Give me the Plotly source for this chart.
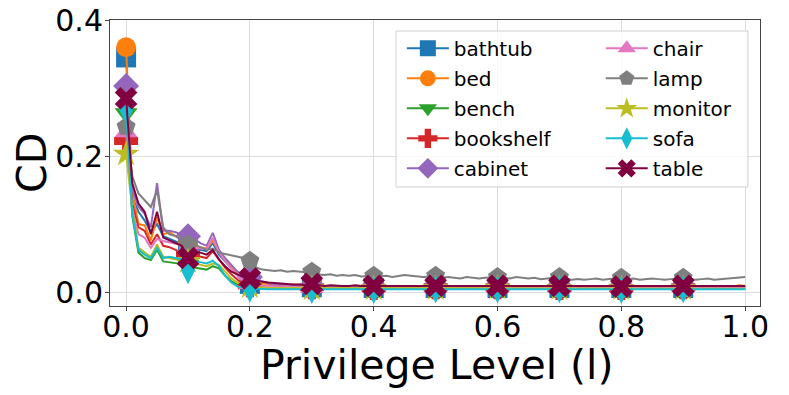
import plotly.graph_objects as go

# privilege level sampled every 0.01 from 0 to 1
privilege = [round(i / 100, 2) for i in range(101)]

bathtub = [0.345, 0.140, 0.118, 0.105, 0.088, 0.100, 0.082, 0.078, 0.074, 0.070,
           0.066, 0.063, 0.062, 0.060, 0.072, 0.055, 0.045, 0.035, 0.025, 0.018, 0.012,
           0.010, 0.009, 0.009, 0.008, 0.009, 0.008, 0.008, 0.007, 0.008, 0.007,
           0.007, 0.007, 0.006, 0.007, 0.007, 0.006, 0.007, 0.006, 0.007, 0.006,
           0.006, 0.007, 0.006, 0.006, 0.007, 0.006, 0.006, 0.007, 0.006, 0.006,
           0.007, 0.006, 0.006, 0.007, 0.006, 0.006, 0.007, 0.006, 0.006, 0.006,
           0.006, 0.007, 0.006, 0.006, 0.006, 0.007, 0.006, 0.006, 0.007, 0.006,
           0.006, 0.006, 0.007, 0.006, 0.006, 0.006, 0.007, 0.006, 0.006, 0.006,
           0.007, 0.006, 0.006, 0.006, 0.007, 0.006, 0.006, 0.006, 0.007, 0.006,
           0.006, 0.006, 0.007, 0.006, 0.006, 0.006, 0.007, 0.006, 0.006, 0.006]
bed = [0.360, 0.145, 0.100, 0.098, 0.076, 0.110, 0.085, 0.088, 0.082, 0.078,
       0.072, 0.068, 0.066, 0.064, 0.075, 0.060, 0.048, 0.036, 0.026, 0.018, 0.014,
       0.013, 0.012, 0.012, 0.011, 0.011, 0.010, 0.011, 0.010, 0.010, 0.009,
       0.009, 0.009, 0.010, 0.009, 0.009, 0.010, 0.009, 0.009, 0.008, 0.009,
       0.009, 0.008, 0.009, 0.009, 0.008, 0.009, 0.009, 0.008, 0.009, 0.008,
       0.009, 0.008, 0.009, 0.008, 0.008, 0.009, 0.008, 0.009, 0.008, 0.008,
       0.008, 0.009, 0.008, 0.008, 0.009, 0.008, 0.008, 0.009, 0.008, 0.008,
       0.009, 0.008, 0.008, 0.009, 0.008, 0.008, 0.008, 0.009, 0.008, 0.008,
       0.008, 0.009, 0.008, 0.008, 0.008, 0.009, 0.008, 0.008, 0.009, 0.008,
       0.008, 0.008, 0.009, 0.008, 0.008, 0.009, 0.008, 0.008, 0.010, 0.009]
bench = [0.263, 0.112, 0.058, 0.050, 0.047, 0.062, 0.045, 0.044, 0.043, 0.042,
         0.040, 0.036, 0.034, 0.033, 0.038, 0.035, 0.024, 0.016, 0.011, 0.008, 0.007,
         0.007, 0.006, 0.006, 0.006, 0.005, 0.006, 0.005, 0.005, 0.005, 0.005,
         0.005, 0.004, 0.005, 0.005, 0.004, 0.005, 0.005, 0.004, 0.005, 0.005,
         0.004, 0.005, 0.005, 0.004, 0.005, 0.004, 0.005, 0.005, 0.004, 0.005,
         0.005, 0.004, 0.005, 0.005, 0.004, 0.005, 0.004, 0.005, 0.005, 0.004,
         0.005, 0.005, 0.004, 0.005, 0.004, 0.005, 0.005, 0.004, 0.005, 0.005,
         0.004, 0.005, 0.005, 0.004, 0.005, 0.004, 0.005, 0.005, 0.004, 0.005,
         0.005, 0.004, 0.005, 0.005, 0.004, 0.005, 0.004, 0.005, 0.005, 0.004,
         0.005, 0.005, 0.004, 0.005, 0.004, 0.005, 0.005, 0.004, 0.005, 0.005]
bookshelf = [0.222, 0.130, 0.095, 0.090, 0.070, 0.085, 0.068, 0.066, 0.062, 0.058,
             0.055, 0.054, 0.052, 0.050, 0.060, 0.048, 0.036, 0.026, 0.018, 0.012, 0.010,
             0.009, 0.009, 0.008, 0.008, 0.008, 0.007, 0.008, 0.007, 0.007, 0.007,
             0.007, 0.006, 0.007, 0.007, 0.006, 0.007, 0.006, 0.007, 0.007, 0.006,
             0.007, 0.006, 0.007, 0.006, 0.007, 0.007, 0.006, 0.007, 0.006, 0.007,
             0.006, 0.007, 0.007, 0.006, 0.007, 0.006, 0.007, 0.006, 0.007, 0.007,
             0.006, 0.007, 0.006, 0.007, 0.007, 0.006, 0.007, 0.006, 0.007, 0.006,
             0.007, 0.007, 0.006, 0.007, 0.006, 0.007, 0.006, 0.007, 0.007, 0.006,
             0.007, 0.006, 0.007, 0.006, 0.007, 0.007, 0.006, 0.007, 0.006, 0.007,
             0.006, 0.007, 0.007, 0.006, 0.007, 0.006, 0.007, 0.006, 0.007, 0.007]
cabinet = [0.303, 0.150, 0.125, 0.115, 0.095, 0.160, 0.090, 0.090, 0.088, 0.085,
           0.082, 0.078, 0.072, 0.068, 0.087, 0.062, 0.050, 0.040, 0.030, 0.025, 0.022,
           0.018, 0.015, 0.013, 0.012, 0.011, 0.011, 0.010, 0.010, 0.009, 0.009,
           0.009, 0.008, 0.009, 0.008, 0.008, 0.009, 0.008, 0.008, 0.008, 0.009,
           0.008, 0.008, 0.009, 0.008, 0.008, 0.008, 0.009, 0.008, 0.008, 0.008,
           0.008, 0.009, 0.008, 0.008, 0.008, 0.009, 0.008, 0.008, 0.008, 0.008,
           0.009, 0.008, 0.008, 0.008, 0.009, 0.008, 0.008, 0.008, 0.008, 0.009,
           0.008, 0.008, 0.008, 0.009, 0.008, 0.008, 0.008, 0.008, 0.009, 0.008,
           0.008, 0.008, 0.009, 0.008, 0.008, 0.008, 0.008, 0.009, 0.008, 0.008,
           0.008, 0.009, 0.008, 0.008, 0.008, 0.008, 0.009, 0.008, 0.008, 0.008]
chair = [0.235, 0.120, 0.085, 0.080, 0.065, 0.078, 0.075, 0.073, 0.070, 0.068,
         0.066, 0.065, 0.064, 0.063, 0.080, 0.058, 0.046, 0.034, 0.024, 0.016, 0.012,
         0.010, 0.009, 0.009, 0.008, 0.008, 0.008, 0.007, 0.007, 0.007, 0.006,
         0.006, 0.007, 0.006, 0.006, 0.006, 0.007, 0.006, 0.006, 0.006, 0.006,
         0.007, 0.006, 0.006, 0.006, 0.006, 0.007, 0.006, 0.006, 0.006, 0.006,
         0.006, 0.007, 0.006, 0.006, 0.006, 0.006, 0.007, 0.006, 0.006, 0.006,
         0.006, 0.006, 0.007, 0.006, 0.006, 0.006, 0.006, 0.007, 0.006, 0.006,
         0.006, 0.006, 0.006, 0.007, 0.006, 0.006, 0.006, 0.006, 0.007, 0.006,
         0.006, 0.006, 0.006, 0.006, 0.007, 0.006, 0.006, 0.006, 0.006, 0.007,
         0.006, 0.006, 0.006, 0.006, 0.006, 0.007, 0.006, 0.006, 0.006, 0.006]
lamp = [0.243, 0.170, 0.145, 0.135, 0.125, 0.150, 0.095, 0.085, 0.082, 0.080,
        0.070, 0.070, 0.066, 0.062, 0.064, 0.058, 0.056, 0.054, 0.052, 0.050, 0.046,
        0.036, 0.033, 0.032, 0.031, 0.032, 0.030, 0.031, 0.030, 0.029, 0.030,
        0.026, 0.025, 0.026, 0.024, 0.025, 0.024, 0.025, 0.023, 0.024, 0.024,
        0.023, 0.024, 0.022, 0.023, 0.025, 0.024, 0.023, 0.022, 0.023, 0.024,
        0.021, 0.022, 0.021, 0.020, 0.022, 0.021, 0.020, 0.021, 0.022, 0.022,
        0.021, 0.020, 0.022, 0.021, 0.020, 0.021, 0.019, 0.020, 0.021, 0.022,
        0.019, 0.018, 0.019, 0.018, 0.019, 0.020, 0.018, 0.019, 0.020, 0.021,
        0.019, 0.020, 0.018, 0.019, 0.020, 0.019, 0.018, 0.019, 0.020, 0.021,
        0.019, 0.018, 0.019, 0.020, 0.018, 0.019, 0.020, 0.021, 0.022, 0.022]
monitor = [0.203, 0.122, 0.065, 0.058, 0.052, 0.070, 0.052, 0.050, 0.048, 0.047,
           0.045, 0.042, 0.040, 0.038, 0.042, 0.040, 0.030, 0.020, 0.014, 0.010, 0.008,
           0.007, 0.007, 0.006, 0.006, 0.006, 0.005, 0.006, 0.005, 0.005, 0.005,
           0.005, 0.005, 0.006, 0.005, 0.005, 0.005, 0.005, 0.006, 0.005, 0.005,
           0.005, 0.006, 0.005, 0.005, 0.005, 0.005, 0.006, 0.005, 0.005, 0.005,
           0.006, 0.005, 0.005, 0.005, 0.005, 0.006, 0.005, 0.005, 0.005, 0.006,
           0.005, 0.005, 0.005, 0.005, 0.006, 0.005, 0.005, 0.005, 0.006, 0.005,
           0.005, 0.005, 0.005, 0.006, 0.005, 0.005, 0.005, 0.006, 0.005, 0.005,
           0.005, 0.005, 0.006, 0.005, 0.005, 0.005, 0.006, 0.005, 0.005, 0.005,
           0.005, 0.006, 0.005, 0.005, 0.005, 0.006, 0.005, 0.005, 0.005, 0.005]
sofa = [0.268, 0.115, 0.062, 0.055, 0.050, 0.065, 0.050, 0.052, 0.050, 0.048,
        0.032, 0.045, 0.044, 0.042, 0.046, 0.038, 0.024, 0.014, 0.008, 0.006, 0.005,
        0.005, 0.004, 0.004, 0.004, 0.004, 0.004, 0.003, 0.004, 0.004, 0.003,
        0.004, 0.004, 0.003, 0.004, 0.004, 0.004, 0.003, 0.004, 0.004, 0.003,
        0.004, 0.004, 0.004, 0.003, 0.004, 0.004, 0.003, 0.004, 0.004, 0.004,
        0.003, 0.004, 0.004, 0.004, 0.003, 0.004, 0.004, 0.003, 0.004, 0.004,
        0.004, 0.003, 0.004, 0.004, 0.004, 0.003, 0.004, 0.004, 0.003, 0.004,
        0.004, 0.004, 0.003, 0.004, 0.004, 0.004, 0.003, 0.004, 0.004, 0.003,
        0.004, 0.004, 0.004, 0.003, 0.004, 0.004, 0.003, 0.004, 0.004, 0.004,
        0.003, 0.004, 0.004, 0.004, 0.003, 0.004, 0.004, 0.003, 0.004, 0.004]
table = [0.285, 0.160, 0.130, 0.118, 0.085, 0.118, 0.080, 0.076, 0.072, 0.068,
         0.050, 0.060, 0.058, 0.055, 0.062, 0.048, 0.038, 0.030, 0.026, 0.022, 0.020,
         0.017, 0.015, 0.014, 0.013, 0.012, 0.012, 0.011, 0.011, 0.010, 0.012,
         0.010, 0.009, 0.010, 0.009, 0.009, 0.009, 0.010, 0.009, 0.009, 0.009,
         0.009, 0.009, 0.008, 0.009, 0.009, 0.008, 0.009, 0.009, 0.008, 0.009,
         0.009, 0.008, 0.009, 0.008, 0.009, 0.009, 0.008, 0.009, 0.008, 0.009,
         0.008, 0.009, 0.009, 0.008, 0.009, 0.008, 0.009, 0.008, 0.009, 0.009,
         0.008, 0.009, 0.008, 0.009, 0.008, 0.009, 0.009, 0.008, 0.009, 0.008,
         0.009, 0.008, 0.009, 0.009, 0.008, 0.009, 0.008, 0.009, 0.008, 0.009,
         0.009, 0.008, 0.009, 0.008, 0.009, 0.009, 0.008, 0.009, 0.008, 0.009]

series = [
    ("bathtub", bathtub, "#1f77b4", "square"),
    ("bed", bed, "#ff7f0e", "circle"),
    ("bench", bench, "#2ca02c", "triangle-down"),
    ("bookshelf", bookshelf, "#d62728", "cross"),
    ("cabinet", cabinet, "#9467bd", "diamond"),
    ("chair", chair, "#e377c2", "triangle-up"),
    ("lamp", lamp, "#7f7f7f", "pentagon"),
    ("monitor", monitor, "#bcbd22", "star"),
    ("sofa", sofa, "#17becf", "diamond-tall"),
    ("table", table, "#800040", "x"),
]

# markers only on every 10th sample (0.0 ... 0.9), like matplotlib markevery
marked = list(range(0, 100, 10))

fig = go.Figure()
for k, (name, vals, color, symbol) in enumerate(series):
    fig.add_trace(go.Scatter(
        x=privilege, y=vals, name=name, mode="lines+markers",
        line=dict(color=color, width=2),
        marker=dict(symbol=symbol, size=20, color=color, line=dict(width=0)),
        selectedpoints=marked,
        selected=dict(marker=dict(opacity=1)),
        unselected=dict(marker=dict(opacity=0)),
        legend="legend" if k < 5 else "legend2",
        legendgroup=name,
    ))

leg_font = dict(family="DejaVu Sans", size=20, color="black")
fig.update_layout(
    width=789, height=395,
    margin=dict(l=110, r=29, t=20, b=89),
    plot_bgcolor="white", paper_bgcolor="white",
    font=dict(family="DejaVu Sans", color="black"),
    legend=dict(x=0.449, y=0.969, xanchor="left", yanchor="top", bgcolor="rgba(0,0,0,0)",
                font=leg_font, tracegroupgap=1, itemwidth=42),
    legend2=dict(x=0.755, y=0.969, xanchor="left", yanchor="top", bgcolor="rgba(0,0,0,0)",
                 font=leg_font, tracegroupgap=1, itemwidth=42),
    shapes=[dict(type="rect", xref="paper", yref="paper", x0=0.44, x1=0.9815, y0=0.416, y1=0.9615,
                 line=dict(color="#d0d0d0", width=1), fillcolor="rgba(255,255,255,0.8)", layer="above")],
    annotations=[
        dict(text="Privilege Level (l)", xref="paper", yref="paper", x=0.502, y=-0.207,
             xanchor="center", yanchor="middle", showarrow=False, font=dict(size=41)),
        dict(text="CD", xref="paper", yref="paper", x=-0.12, y=0.5, textangle=-90,
             xanchor="center", yanchor="middle", showarrow=False, font=dict(size=41)),
    ],
    xaxis=dict(
        range=[-0.026, 1.024], tickvals=[0, 0.2, 0.4, 0.6, 0.8, 1.0], ticktext=["0.0", "0.2", "0.4", "0.6", "0.8", "1.0"],
        tickfont=dict(size=30), showgrid=True, gridcolor="#dcdcdc", gridwidth=1,
        showline=True, linecolor="#444", linewidth=1, mirror=True, automargin=False,
        ticks="outside", ticklen=4, tickcolor="#444", zeroline=False, ticklabelstandoff=-10,
    ),
    yaxis=dict(
        range=[-0.0205, 0.4], tickvals=[0, 0.2, 0.4], ticktext=["0.0", "0.2", "0.4"],
        tickfont=dict(size=30), showgrid=True, gridcolor="#dcdcdc", gridwidth=1,
        showline=True, linecolor="#444", linewidth=1, mirror=True, automargin=False,
        ticks="outside", ticklen=4, tickcolor="#444", zeroline=False, ticklabelstandoff=-4,
    ),
)

fig.write_html("out.html", config={"displayModeBar": False},
               post_script="document.body.style.margin = '0';")
